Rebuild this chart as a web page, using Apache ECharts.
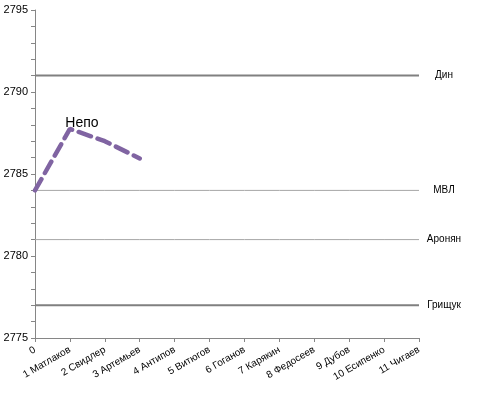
<!DOCTYPE html>
<html>
<head>
<meta charset="utf-8">
<script src="https://cdn.jsdelivr.net/npm/echarts@6/dist/echarts.min.js"></script>
<style>html,body{margin:0;padding:0;background:#fff}#c{width:486px;height:394px}</style>
</head>
<body>
<div id="c"></div>
<script>
var categories = ['0','1 Матлаков','2 Свидлер','3 Артемьев','4 Антипов','5 Витюгов','6 Гоганов','7 Карякин','8 Федосеев','9 Дубов','10 Есипенко','11 Чигаев'];
var nepoValues = [2784.0, 2787.75, 2787.0, 2785.95, null, null, null, null, null, null, null, null];
var nepoLabelIndex = 1;
var refNames = ['Дин', 'МВЛ', 'Аронян', 'Грищук'];
var refValues = [2791, 2784, 2781, 2777];
var refThick = [true, false, false, true];
var yTicks = [2775, 2780, 2785, 2790, 2795];

var FONT = '"Liberation Sans", Arial, sans-serif';
var chart = echarts.init(document.getElementById('c'), null, {renderer: 'canvas'});

var series = [];
refNames.forEach(function (name, i) {
  series.push({
    name: name,
    type: 'line',
    data: categories.map(function () { return refValues[i]; }),
    symbol: 'none',
    silent: true,
    z: 1,
    lineStyle: {color: refThick[i] ? '#808080' : '#a6a6a6', width: refThick[i] ? 2 : 1},
    endLabel: {
      show: true,
      formatter: name,
      color: '#000',
      fontFamily: FONT,
      fontSize: 10,
      align: 'center',
      distance: 0,
      offset: [25, 0]
    }
  });
});

series.push({
  name: 'Непо',
  type: 'line',
  data: nepoValues,
  symbol: 'none',
  z: 3,
  lineStyle: {color: '#8064a2', width: 4.5, type: [13, 7], cap: 'round'},
  markPoint: {
    symbol: 'circle',
    symbolSize: 1,
    itemStyle: {color: 'transparent'},
    silent: true,
    data: [{
      coord: [categories[nepoLabelIndex], nepoValues[nepoLabelIndex]],
      label: {show: true, formatter: 'Непо', position: 'inside', offset: [12, -6], color: '#000', fontSize: 14, fontFamily: FONT}
    }]
  }
});

chart.setOption({
  animation: false,
  backgroundColor: '#fff',
  grid: {left: 35, right: 67, top: 10, bottom: 56, containLabel: false},
  xAxis: {
    type: 'category',
    data: categories,
    boundaryGap: false,
    axisLine: {lineStyle: {color: '#868686', width: 1}},
    axisTick: {show: true, alignWithLabel: true, length: 4, lineStyle: {color: '#868686'}},
    axisLabel: {rotate: 30, color: '#000', fontSize: 10, fontFamily: FONT, margin: 11, interval: 0},
    splitLine: {show: false}
  },
  yAxis: {
    type: 'value',
    min: yTicks[0],
    max: yTicks[yTicks.length - 1],
    interval: 5,
    axisLine: {show: true, lineStyle: {color: '#868686', width: 1}},
    axisTick: {show: true, length: 4, lineStyle: {color: '#868686'}},
    minorTick: {show: true, splitNumber: 5, length: 4, lineStyle: {color: '#868686'}},
    axisLabel: {color: '#000', fontSize: 11, fontFamily: FONT, margin: 7, formatter: function (v) { return String(v); }},
    splitLine: {show: false}
  },
  series: series
});
</script>
</body>
</html>
